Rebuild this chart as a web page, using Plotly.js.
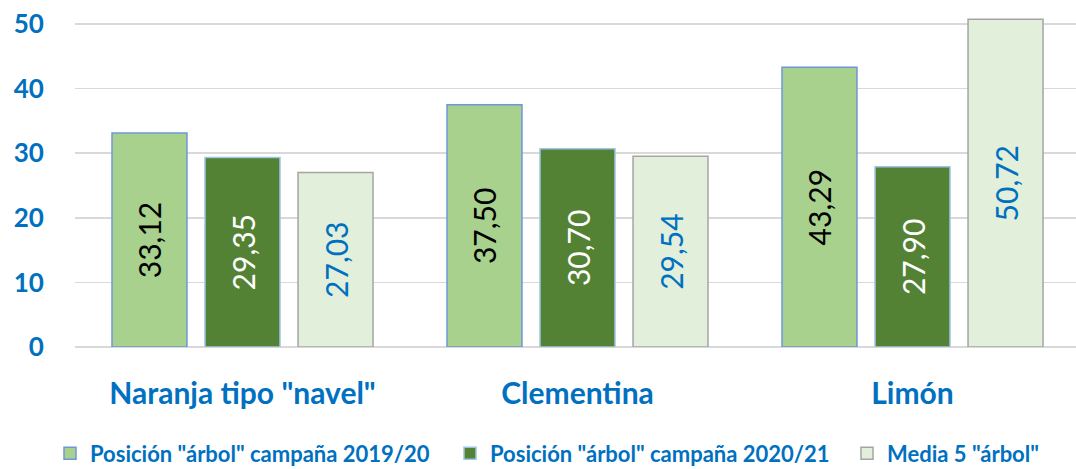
<!DOCTYPE html>
<html><head><meta charset="utf-8">
<script src="https://cdn.plot.ly/plotly-3.0.1.min.js"></script>
<style>html,body{margin:0;padding:0;background:#fff}#chart{width:1076px;height:469px}</style>
</head><body><div id="chart"></div>
<script>
const categories = ['Naranja tipo "navel"', 'Clementina', 'Limón'];
const seriesNames = ['Posición "árbol" campaña 2019/20', 'Posición "árbol" campaña 2020/21', 'Media 5 "árbol"'];
const values2019 = [33.12, 37.50, 43.29];
const values2020 = [29.35, 30.70, 27.90];
const valuesMedia = [27.03, 29.54, 50.72];
const yTicks = [0, 10, 20, 30, 40, 50];

const blue = '#0070C0';
const FONT = 'Lato, "Open Sans", sans-serif';

function mk(name, ys, fill, line, txt, lw) {
  return {
    type: 'bar', name: name, x: [0, 1, 2], y: ys, legendwidth: lw,
    marker: {color: fill, line: {color: line, width: 1.5}},
    texttemplate: '%{y:.2f}', textposition: 'inside', insidetextanchor: 'middle',
    textangle: -90, constraintext: 'none',
    insidetextfont: {family: FONT, size: 30, color: txt},
    hoverinfo: 'none'
  };
}
const data = [
  mk(seriesNames[0], values2019, '#A9D18E', '#6F96D8', '#000000', 355),
  mk(seriesNames[1], values2020, '#548235', '#9DC3E6', '#FFFFFF', 352),
  mk(seriesNames[2], valuesMedia, '#E2EFDA', '#A5A5A5', blue, 165)
];
const layout = {
  width: 1076, height: 469,
  margin: {l: 50, r: 0, t: 10, b: 122},
  paper_bgcolor: '#fff', plot_bgcolor: '#fff',
  separators: ',.',
  barmode: 'group', bargap: 0.167, bargroupgap: 0.194,
  showlegend: true,
  legend: {orientation: 'h', xref: 'paper', yref: 'container', x: 0, xanchor: 'left',
           y: 0.033, yanchor: 'middle', entrywidthmode: 'pixels',
           font: {family: FONT, size: 22, color: blue, weight: 'bold'}, itemclick: false},
  xaxis: {domain: [25 / 1026, 1], range: [-0.5, 2.488], tickvals: [0, 1, 2], ticktext: categories,
          showgrid: false, zeroline: false, showline: false,
          ticks: 'outside', ticklen: 20, tickcolor: 'rgba(0,0,0,0)',
          tickfont: {family: FONT, size: 30, color: blue, weight: 'bold'}},
  yaxis: {range: [0, 52.17], tickvals: yTicks, showgrid: true, gridcolor: '#D9D9D9', gridwidth: 1.5,
          zeroline: true, zerolinecolor: '#D9D9D9', zerolinewidth: 1.5, showline: false,
          ticks: 'outside', ticklen: 25, tickcolor: 'rgba(0,0,0,0)',
          tickfont: {family: FONT, size: 26, color: blue, weight: 'bold'}}
};
Plotly.newPlot('chart', data, layout, {displayModeBar: false, staticPlot: true});
</script></body></html>
